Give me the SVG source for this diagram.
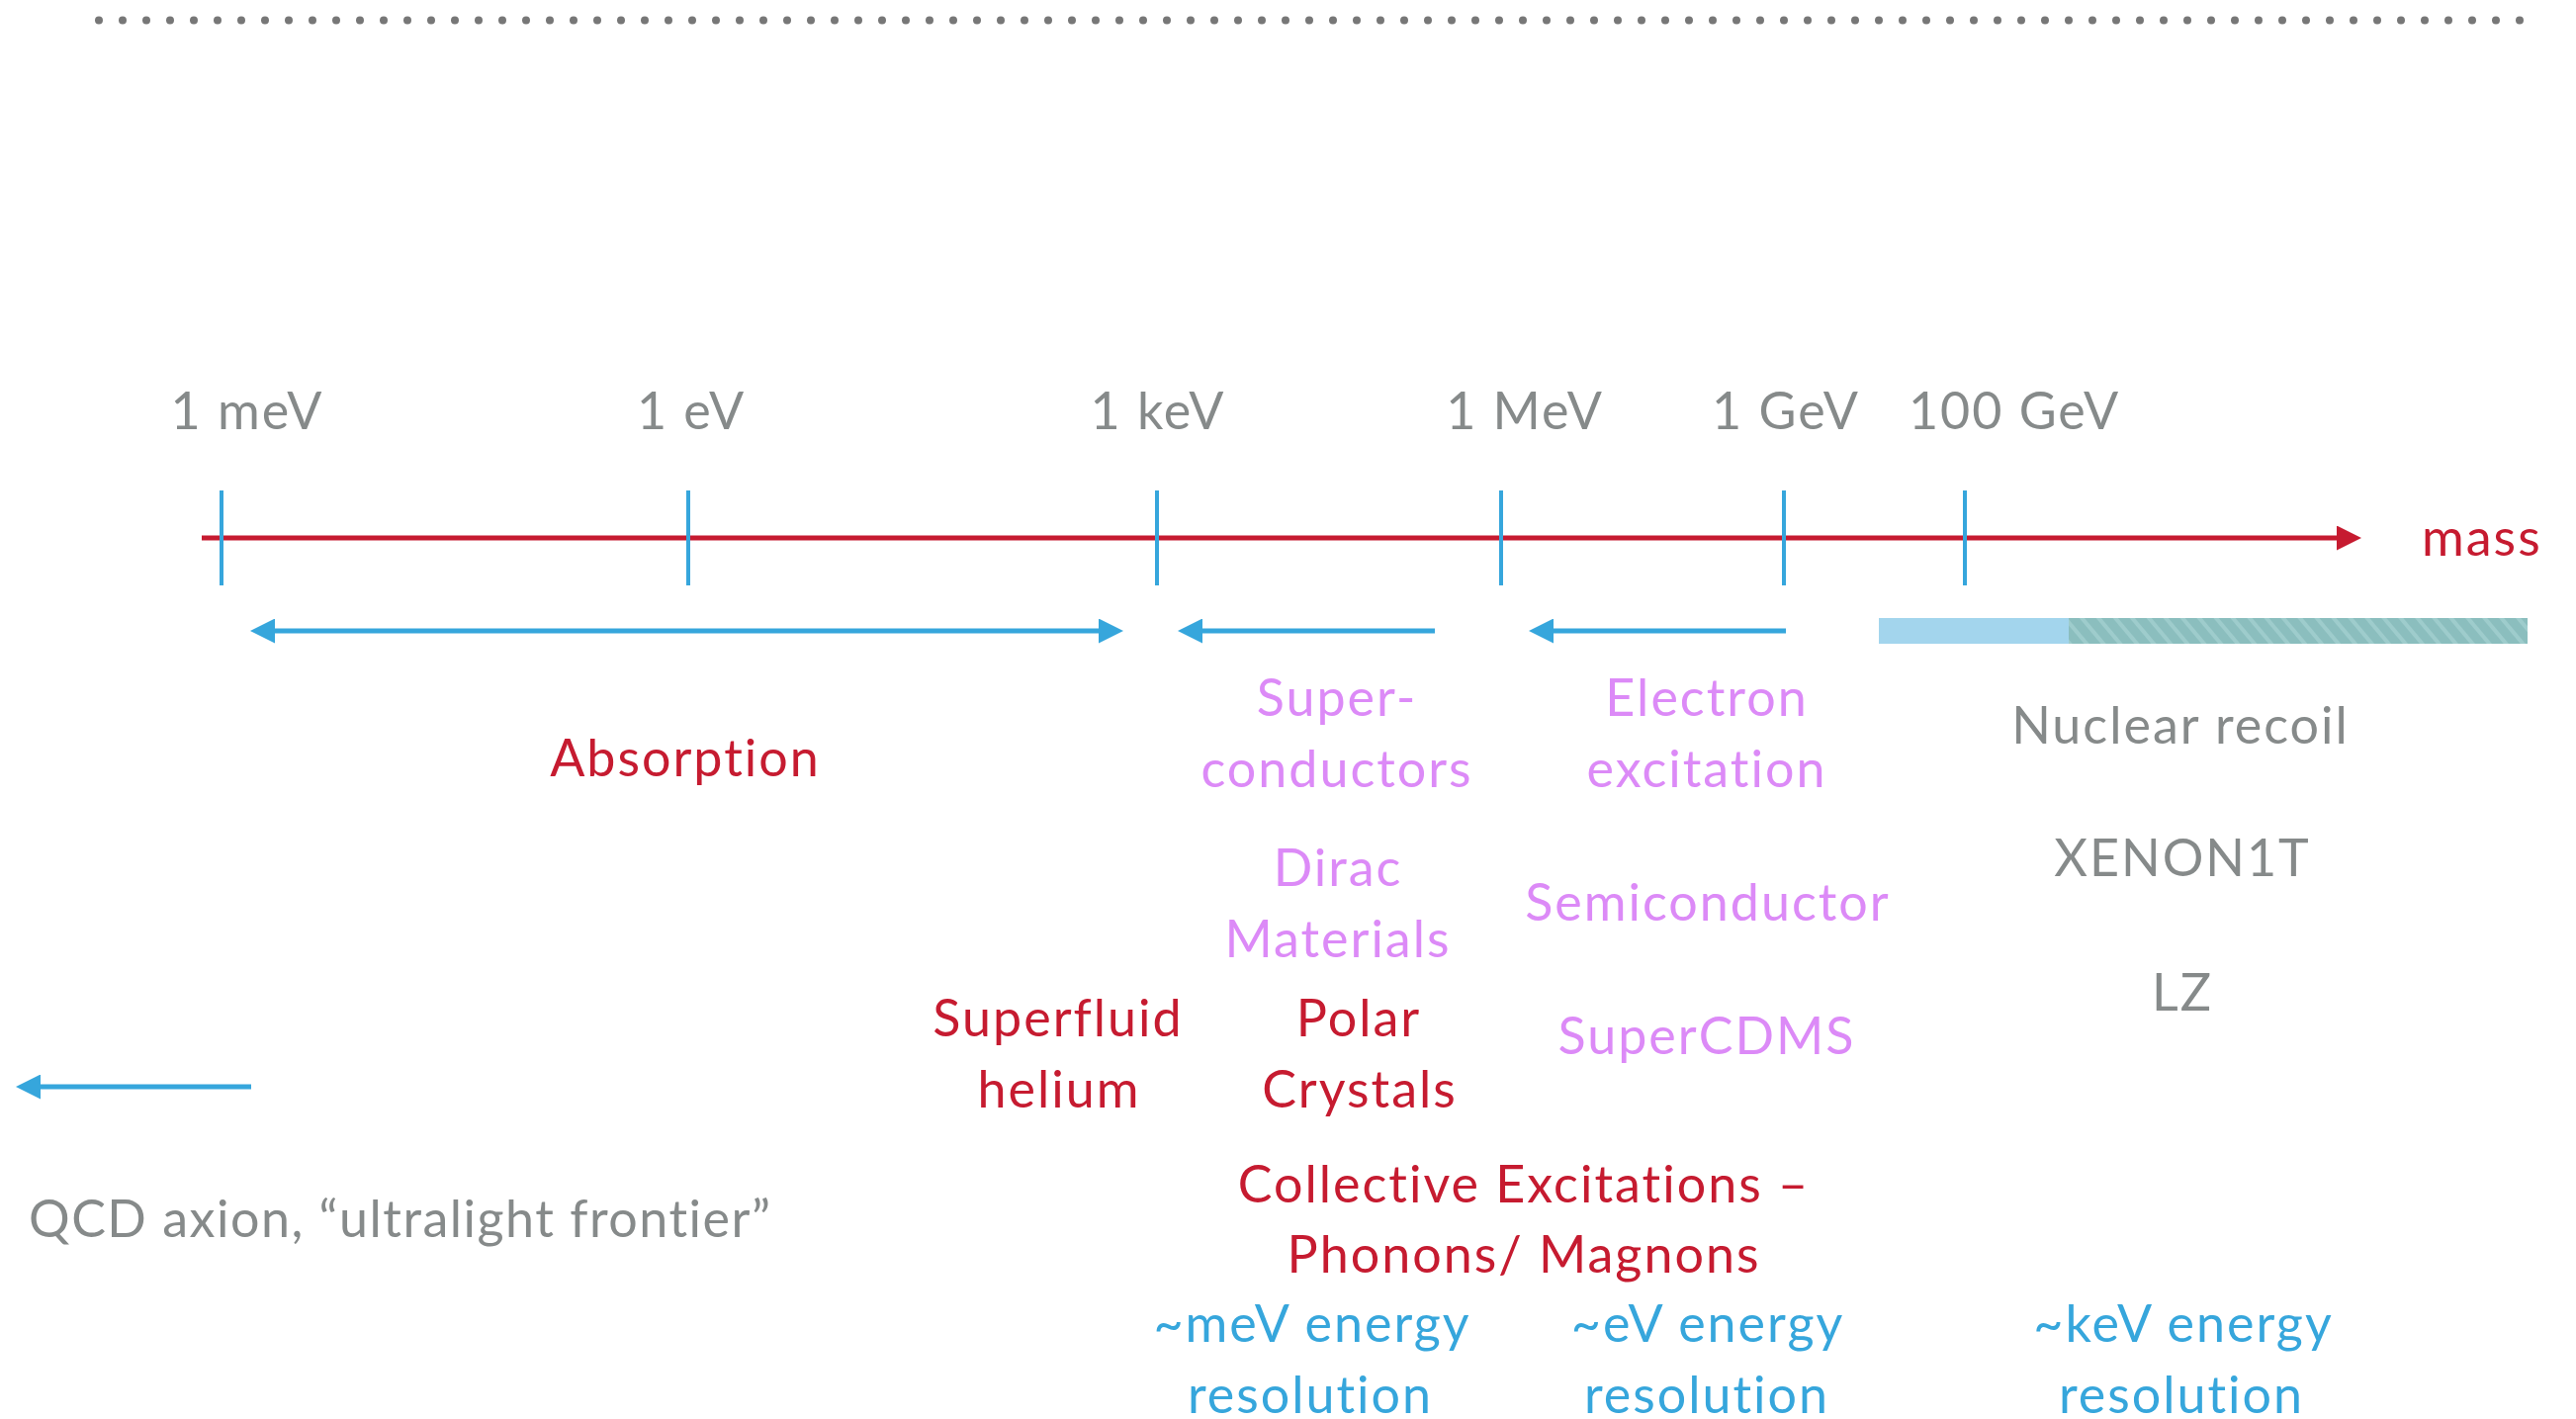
<svg xmlns="http://www.w3.org/2000/svg" width="2605" height="1435" viewBox="0 0 2605 1435">
<defs>
<style>
text{font-family:Lato,"Noto Sans","Liberation Sans",sans-serif;font-size:52px;text-anchor:middle;letter-spacing:2px}
.g{fill:#868a8a}
.r{fill:#c61b30}
.p{fill:#dc8af7}
.b{fill:#36a6dc}
.tick{stroke:#36a6dc;stroke-width:4}
.barrow{stroke:#36a6dc;stroke-width:5;fill:none}
</style>
<marker id="bh" viewBox="0 0 25 25" refX="0" refY="12.5" markerWidth="25" markerHeight="25" markerUnits="userSpaceOnUse" orient="auto-start-reverse">
<path d="M0,0 L25,12.5 L0,25 Z" fill="#36a6dc"/>
</marker>
<marker id="rh" viewBox="0 0 25 25" refX="0" refY="12.5" markerWidth="25" markerHeight="25" markerUnits="userSpaceOnUse" orient="auto">
<path d="M0,0 L25,12.5 L0,25 Z" fill="#c61b30"/>
</marker>
<pattern id="hatch" patternUnits="userSpaceOnUse" width="13" height="13" patternTransform="rotate(-40)">
<rect width="13" height="13" fill="#8bbebe"/>
<rect width="4" height="13" fill="#9ecccc"/>
</pattern>
</defs>
<rect width="2605" height="1435" fill="#ffffff"/>
<line x1="100" y1="20.5" x2="2555" y2="20.5" stroke="#777777" stroke-width="8" stroke-linecap="round" stroke-dasharray="0 24"/>

<g id="connectors">
<line x1="204" y1="544" x2="2363" y2="544" stroke="#c61b30" stroke-width="5" marker-end="url(#rh)"/>
<line class="tick" x1="224" y1="496" x2="224" y2="592"/>
<line class="tick" x1="696" y1="496" x2="696" y2="592"/>
<line class="tick" x1="1170" y1="496" x2="1170" y2="592"/>
<line class="tick" x1="1518" y1="496" x2="1518" y2="592"/>
<line class="tick" x1="1804" y1="496" x2="1804" y2="592"/>
<line class="tick" x1="1987" y1="496" x2="1987" y2="592"/>
<line class="barrow" x1="278" y1="638" x2="1111" y2="638" marker-start="url(#bh)" marker-end="url(#bh)"/>
<line class="barrow" x1="1451" y1="638" x2="1216" y2="638" marker-end="url(#bh)"/>
<line class="barrow" x1="1806" y1="638" x2="1571" y2="638" marker-end="url(#bh)"/>
<line class="barrow" x1="254" y1="1099" x2="41" y2="1099" marker-end="url(#bh)"/>
<rect x="1900" y="625" width="192" height="26" fill="#a3d5ed"/>
<rect x="2092" y="625" width="464" height="26" fill="url(#hatch)"/>
</g>

<g id="axis-labels">
<text class="g" x="250" y="434">1 meV</text>
<text class="g" x="699" y="434">1 eV</text>
<text class="g" x="1171" y="434">1 keV</text>
<text class="g" x="1542" y="434">1 MeV</text>
<text class="g" x="1806" y="434">1 GeV</text>
<text class="g" x="2037" y="434">100 GeV</text>
<text class="r" x="2449" y="562" style="text-anchor:start">mass</text>
</g>

<g id="absorption"><text class="r" x="693" y="785">Absorption</text></g>
<g id="superconductors"><text class="p" x="1352" y="724">Super-</text><text class="p" x="1352" y="796">conductors</text></g>
<g id="electron-excitation"><text class="p" x="1726" y="724">Electron</text><text class="p" x="1726" y="796">excitation</text></g>
<g id="nuclear-recoil"><text class="g" x="2205" y="752">Nuclear recoil</text></g>
<g id="dirac"><text class="p" x="1353" y="896">Dirac</text><text class="p" x="1353" y="968">Materials</text></g>
<g id="semiconductor"><text class="p" x="1727" y="931">Semiconductor</text></g>
<g id="xenon1t"><text class="g" x="2207" y="886">XENON1T</text></g>
<g id="superfluid"><text class="r" x="1070" y="1048">Superfluid</text><text class="r" x="1071" y="1120">helium</text></g>
<g id="polar"><text class="r" x="1374" y="1048">Polar</text><text class="r" x="1375" y="1120">Crystals</text></g>
<g id="supercdms"><text class="p" x="1726" y="1066">SuperCDMS</text></g>
<g id="lz"><text class="g" x="2207" y="1022">LZ</text></g>
<g id="collective"><text class="r" x="1541" y="1216">Collective Excitations –</text><text class="r" x="1541" y="1287">Phonons/ Magnons</text></g>
<g id="mev-res"><text class="b" x="1327" y="1357">~meV energy</text><text class="b" x="1325" y="1429">resolution</text></g>
<g id="ev-res"><text class="b" x="1727" y="1357">~eV energy</text><text class="b" x="1726" y="1429">resolution</text></g>
<g id="kev-res"><text class="b" x="2208" y="1357">~keV energy</text><text class="b" x="2206" y="1429">resolution</text></g>
<g id="qcd"><text class="g" x="29" y="1251" style="text-anchor:start;letter-spacing:1.5px">QCD axion, “ultralight frontier”</text></g>
</svg>
